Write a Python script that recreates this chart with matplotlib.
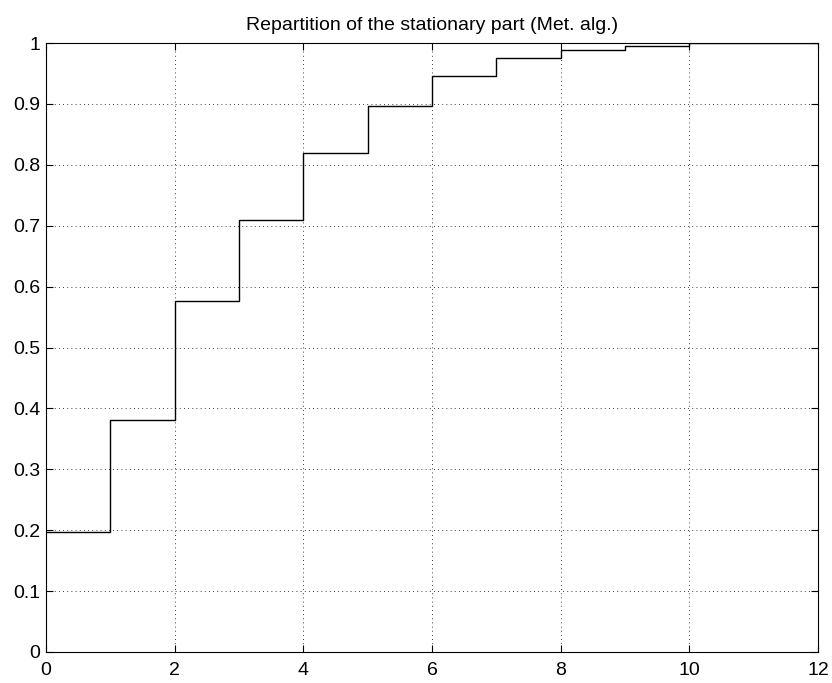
import matplotlib
matplotlib.use('Agg')
import matplotlib.pyplot as plt

# Cumulative distribution of the stationary part (step values)
STATES = [0, 1, 2, 3, 4, 5, 6, 7, 8, 9, 10, 11, 12]
CDF = [0.197, 0.381, 0.577, 0.709, 0.819, 0.896, 0.945, 0.975, 0.989, 0.995, 1.0, 1.0, 1.0]

XTICKS = [0, 2, 4, 6, 8, 10, 12]
YTICKS = [0, 0.1, 0.2, 0.3, 0.4, 0.5, 0.6, 0.7, 0.8, 0.9, 1]
YTICK_LABELS = ['0', '0.1', '0.2', '0.3', '0.4', '0.5', '0.6', '0.7', '0.8', '0.9', '1']

plt.rcParams['font.family'] = ['Liberation Sans', 'DejaVu Sans']

fig = plt.figure(figsize=(8.32, 6.83), dpi=100)
# axes box: x 46..818 px, y 43..652 px
ax = fig.add_axes([46/832, 31/683, 772/832, 609/683])

ax.step(STATES, CDF, where='post', color='black', lw=1.0)

ax.set_xlim(0, 12)
ax.set_ylim(0, 1)
ax.set_xticks(XTICKS)
ax.set_xticklabels([str(t) for t in XTICKS])
ax.set_yticks(YTICKS)
ax.set_yticklabels(YTICK_LABELS)
ax.tick_params(direction='in', length=5, labelsize=14, top=True, right=True)
ax.tick_params(axis='x', pad=7)
ax.tick_params(axis='y', pad=4)

ax.grid(True, color='black', linestyle=(0, (1, 4)), linewidth=0.6)
for s in ax.spines.values():
    s.set_linewidth(0.8)

ax.set_title('Repartition of the stationary part (Met. alg.)', fontsize=14, pad=9)

fig.savefig('out.png', dpi=100)
